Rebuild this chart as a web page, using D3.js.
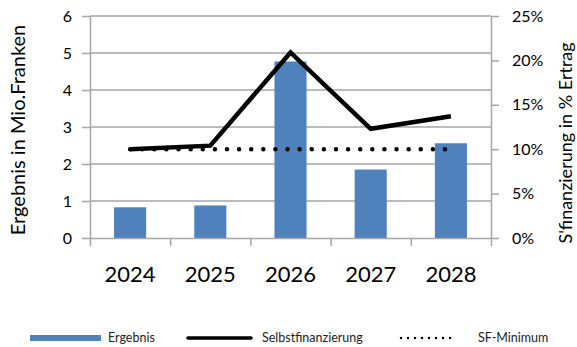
<!DOCTYPE html>
<html>
<head>
<meta charset="utf-8">
<script src="https://cdn.jsdelivr.net/npm/d3@7/dist/d3.min.js"></script>
<style>
  html, body { margin: 0; padding: 0; background: #fff; }
  svg { display: block; font-family: Lato, "Open Sans", sans-serif; }
</style>
</head>
<body>
<svg id="chart" width="577" height="347"></svg>
<script>
// Jahre und Werte
const years = ["2024", "2025", "2026", "2027", "2028"];
const ergebnis = [0.83, 0.88, 4.77, 1.85, 2.56];              // Mio. Franken
const selbstfinanzierung = [0.100, 0.104, 0.209, 0.123, 0.137]; // Anteil am Ertrag
const sfMinimum = [0.10, 0.10, 0.10, 0.10, 0.10];
const leftTicks = [0, 1, 2, 3, 4, 5, 6];
const rightTicks = [0, 0.05, 0.10, 0.15, 0.20, 0.25];

const svg = d3.select("#chart");
const plot = { left: 90, right: 491, top: 16, bottom: 238 };
const gridColor = "#a6a6a6";
const barColor = "#4f81bd";

const x = d3.scaleBand().domain(years)
  .range([plot.left, plot.right]).paddingInner(0.6).paddingOuter(0.3);
const yL = d3.scaleLinear().domain([0, 6]).range([plot.bottom, plot.top]);
const yR = d3.scaleLinear().domain([0, 0.25]).range([plot.bottom, plot.top]);
const cx = d => x(d) + x.bandwidth() / 2;

// Gitterlinien
svg.append("g").selectAll("line").data(leftTicks.filter(d => d > 0)).join("line")
  .attr("x1", plot.left).attr("x2", plot.right)
  .attr("y1", d => yL(d)).attr("y2", d => yL(d))
  .attr("stroke", gridColor).attr("stroke-width", 1.5);

// Balken
svg.append("g").selectAll("rect").data(years).join("rect")
  .attr("x", d => x(d)).attr("width", x.bandwidth())
  .attr("y", (d, i) => yL(ergebnis[i]))
  .attr("height", (d, i) => yL(0) - yL(ergebnis[i]))
  .attr("fill", barColor);

// Achsen
function styleAxis(g) {
  g.select(".domain").attr("stroke", gridColor).attr("stroke-width", 1.5);
  g.selectAll(".tick line").attr("stroke", gridColor).attr("stroke-width", 1.5);
  g.selectAll("text").attr("fill", "#000").attr("font-family", "Lato, 'Open Sans', sans-serif");
}

const xAxisScale = d3.scaleLinear().domain([0, years.length]).range([plot.left, plot.right]);
const gx = svg.append("g").attr("transform", `translate(0,${plot.bottom})`)
  .call(d3.axisBottom(xAxisScale).tickValues(d3.range(years.length + 1))
    .tickSize(8).tickSizeOuter(0).tickFormat(""));
styleAxis(gx);
svg.append("g").selectAll("text").data(years).join("text")
  .attr("x", d => cx(d)).attr("y", 282)
  .attr("text-anchor", "middle").attr("font-size", 22).attr("fill", "#000")
  .text(d => d);

const gl = svg.append("g").attr("transform", `translate(${plot.left},0)`)
  .call(d3.axisLeft(yL).tickValues(leftTicks).tickSize(8).tickSizeOuter(0).tickPadding(10)
    .tickFormat(d3.format("d")));
styleAxis(gl);
gl.selectAll("text").attr("font-size", 16);

const gr = svg.append("g").attr("transform", `translate(${plot.right},0)`)
  .call(d3.axisRight(yR).tickValues(rightTicks).tickSize(8).tickSizeOuter(0).tickPadding(13)
    .tickFormat(d3.format(".0%")));
styleAxis(gr);
gr.selectAll("text").attr("font-size", 16);

// Achsentitel
svg.append("text")
  .attr("transform", "translate(25,130) rotate(-90)")
  .attr("text-anchor", "middle").attr("font-size", 20).attr("fill", "#000")
  .text("Ergebnis in Mio.Franken");
svg.append("text")
  .attr("transform", "translate(572,143) rotate(-90)")
  .attr("text-anchor", "middle").attr("font-size", 18).attr("fill", "#000")
  .text("S'finanzierung in % Ertrag");

// Linien
const line = d3.line().x((d, i) => cx(years[i])).y(d => yR(d));
svg.append("path").datum(sfMinimum)
  .attr("d", line).attr("fill", "none").attr("stroke", "#000")
  .attr("stroke-width", 4.5).attr("stroke-linecap", "round")
  .attr("stroke-dasharray", "0.01 12.1");
svg.append("path").datum(selbstfinanzierung)
  .attr("d", line).attr("fill", "none").attr("stroke", "#000")
  .attr("stroke-width", 4.5).attr("stroke-linejoin", "miter");

// Legende
const legend = svg.append("g").attr("font-size", 12.5).attr("fill", "#222");
const ly = 338;
legend.append("rect").attr("x", 30).attr("y", ly - 3).attr("width", 71).attr("height", 6).attr("fill", barColor);
legend.append("text").attr("x", 108).attr("y", ly + 4).text("Ergebnis");
legend.append("line").attr("x1", 188).attr("x2", 251).attr("y1", ly).attr("y2", ly)
  .attr("stroke", "#000").attr("stroke-width", 3.5).attr("stroke-linecap", "round");
legend.append("text").attr("x", 262).attr("y", ly + 4).text("Selbstfinanzierung");
legend.append("line").attr("x1", 401).attr("x2", 457).attr("y1", ly).attr("y2", ly)
  .attr("stroke", "#000").attr("stroke-width", 2.5).attr("stroke-linecap", "round")
  .attr("stroke-dasharray", "0.01 7");
legend.append("text").attr("x", 478).attr("y", ly + 4).text("SF-Minimum");
</script>
</body>
</html>
